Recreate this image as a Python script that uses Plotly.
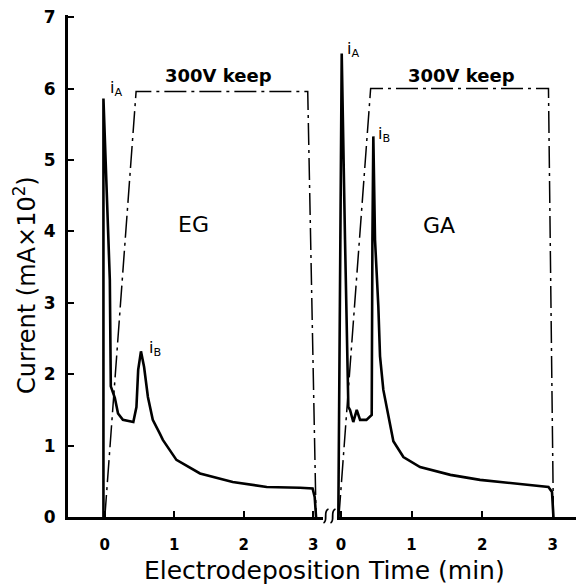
import plotly.graph_objects as go

# ---- data ----
# EG panel (left)
eg_t = [-0.02, -0.02, 0.072, 0.086, 0.144, 0.19, 0.26, 0.41, 0.455, 0.48, 0.52,
        0.565, 0.62, 0.69, 0.79, 0.835, 1.03, 1.37, 1.84, 2.33, 2.81, 2.99, 3.02, 3.04]
eg_i = [0.0, 5.86, 3.32, 1.83, 1.67, 1.45, 1.36, 1.33, 1.54, 2.06, 2.32,
        2.10, 1.68, 1.36, 1.17, 1.08, 0.80, 0.61, 0.49, 0.42, 0.41, 0.40, 0.28, 0.0]
eg_vt = [0.0, 0.45, 2.92, 3.04]
eg_v = [0.0, 5.96, 5.96, 0.0]

# GA panel (right)
ga_t = [-0.038, 0.01, 0.057, 0.104, 0.128, 0.174, 0.223, 0.27, 0.36, 0.435, 0.445,
        0.458, 0.482, 0.529, 0.553, 0.6, 0.742, 0.884, 1.12, 1.55, 1.97, 2.44, 2.94,
        2.99, 3.01]
ga_i = [0.0, 6.49, 3.88, 1.54, 1.50, 1.33, 1.50, 1.36, 1.36, 1.43, 3.88,
        5.33, 3.88, 2.95, 2.25, 1.78, 1.06, 0.84, 0.70, 0.59, 0.52, 0.47, 0.42,
        0.35, 0.0]
ga_vt = [-0.03, 0.42, 2.94, 3.01]
ga_v = [0.0, 6.0, 6.0, 0.0]

x_ticks = [0, 1, 2, 3]
y_ticks = [0, 1, 2, 3, 4, 5, 6, 7]

FONT = "DejaVu Sans"
dashdot = "22px,5px,3px,5px"

fig = go.Figure()
fig.add_trace(go.Scatter(x=eg_vt, y=eg_v, mode="lines", xaxis="x", yaxis="y",
                         line=dict(color="black", width=1.5, dash=dashdot)))
fig.add_trace(go.Scatter(x=eg_t, y=eg_i, mode="lines", xaxis="x", yaxis="y",
                         line=dict(color="black", width=2.6)))
fig.add_trace(go.Scatter(x=ga_vt, y=ga_v, mode="lines", xaxis="x2", yaxis="y",
                         line=dict(color="black", width=1.5, dash=dashdot)))
fig.add_trace(go.Scatter(x=ga_t, y=ga_i, mode="lines", xaxis="x2", yaxis="y",
                         line=dict(color="black", width=2.6)))

xax = dict(tickvals=x_ticks, ticktext=[str(v) for v in x_ticks], showgrid=False,
           zeroline=False, showline=True, linecolor="black", linewidth=3,
           ticks="inside", ticklen=6, tickwidth=1.5, tickcolor="black",
           tickfont=dict(family=FONT, size=15, color="black", weight="bold"),
           ticklabelstandoff=12, anchor="y")

fig.update_layout(
    width=576, height=586,
    margin=dict(l=68, r=0, t=15, b=69),
    paper_bgcolor="white", plot_bgcolor="white",
    showlegend=False,
    xaxis=dict(xax, domain=[0, 0.502], range=[-0.53, 3.14]),
    xaxis2=dict(xax, domain=[0.5295, 1], range=[-0.057, 3.33]),
    yaxis=dict(range=[0, 7.03], tickvals=y_ticks, showgrid=False, zeroline=False,
               showline=True, linecolor="black", linewidth=3,
               ticks="inside", ticklen=6, tickwidth=1.5, tickcolor="black",
               tickfont=dict(family=FONT, size=17, color="black", weight="bold"),
               ticklabelstandoff=6, anchor="x"),
)

def ann(x, y, text, xref="x", size=16, xanchor="left", weight="normal"):
    fig.add_annotation(x=x, y=y, xref=xref, yref="y", text=text, showarrow=False,
                       xanchor=xanchor, yanchor="middle",
                       font=dict(family=FONT, size=size, color="black", weight=weight))

ann(0.04, 6.0, "i<sub>A</sub>")
ann(0.6, 2.36, "i<sub>B</sub>")
ann(1.63, 6.18, "300V keep", size=18, xanchor="center", weight="bold")
ann(1.27, 4.09, "EG", size=22, xanchor="center")
ann(0.06, 6.55, "i<sub>A</sub>", xref="x2")
ann(0.49, 5.35, "i<sub>B</sub>", xref="x2")
ann(1.71, 6.18, "300V keep", xref="x2", size=18, xanchor="center", weight="bold")
ann(1.39, 4.08, "GA", xref="x2", size=22, xanchor="center")

# axis titles
fig.add_annotation(x=-0.085, y=0.462, xref="paper", yref="paper", textangle=-90,
                   xanchor="center", yanchor="middle",
                   text="Current (mA×10<sup>2</sup>)", showarrow=False,
                   font=dict(family=FONT, size=24, color="black"))
fig.add_annotation(x=(324 - 68) / 508.0, y=-0.1375, xref="paper", yref="paper",
                   xanchor="center", yanchor="bottom", borderpad=0,
                   text="Electrodeposition Time (min)", showarrow=False,
                   font=dict(family=FONT, size=25, color="black"))

# axis-break squiggles
def px(x):
    return (x - 68) / 508.0

def py(y):
    return (517 - y) / 502.0

for x0 in (323.5, 330.5):
    path = (f"M {px(x0)},{py(523)} C {px(x0 + 5)},{py(521)} {px(x0 - 1)},{py(511)} "
            f"{px(x0 + 5)},{py(509)}")
    fig.add_shape(type="path", xref="paper", yref="paper", path=path,
                  line=dict(color="black", width=1.8))

fig.write_html("out.html")
